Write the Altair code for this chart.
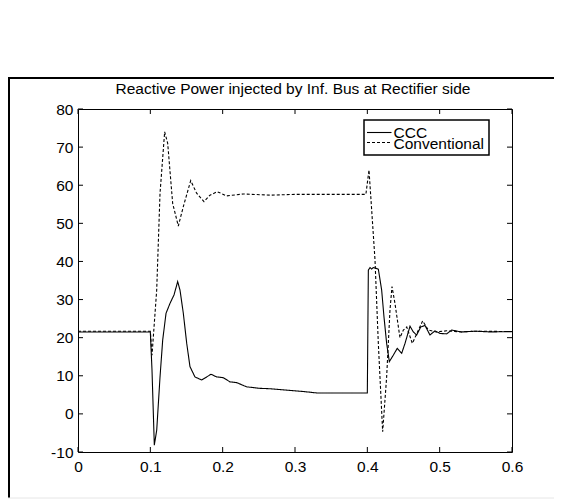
import altair as alt
import pandas as pd

# ---- data ----
ccc_t = [0, 0.1, 0.1023, 0.1055, 0.1088, 0.1134, 0.1171, 0.1217, 0.1272, 0.1327,
         0.1378, 0.141, 0.1456, 0.1503, 0.1548, 0.1617, 0.171, 0.1779, 0.1839, 0.1917,
         0.2009, 0.2101, 0.2194, 0.2332, 0.2516, 0.2654, 0.29, 0.31, 0.33, 0.36, 0.4,
         0.4014, 0.4037, 0.406, 0.4083, 0.4152, 0.4198, 0.423, 0.4267, 0.4304, 0.4359,
         0.4414, 0.4475, 0.4521, 0.459, 0.4636, 0.4682, 0.4738, 0.4797, 0.4866, 0.4935,
         0.5005, 0.5097, 0.5166, 0.53, 0.55, 0.57, 0.6]
ccc_v = [21.5, 21.5, 11.5, -8.2, -4.3, 9.7, 19.4, 26.4, 29.0, 31.2,
         34.7, 32.5, 26.4, 18.5, 12.4, 9.7, 8.9, 9.7, 10.4, 9.7,
         9.5, 8.4, 8.2, 7.1, 6.7, 6.6, 6.2, 5.9, 5.5, 5.5, 5.5,
         37.7, 38.4, 38.0, 38.4, 38.0, 32.5, 25.5, 18.5, 13.7, 15.4,
         17.2, 15.9, 18.5, 23.0, 21.5, 20.7, 22.8, 23.2, 20.7, 21.8,
         21.1, 21.0, 22.0, 21.5, 21.7, 21.5, 21.6]

conv_t = [0, 0.1, 0.1023, 0.1088, 0.1134, 0.1198, 0.124, 0.1309, 0.1387, 0.1456,
          0.1558, 0.164, 0.1742, 0.1825, 0.1926, 0.2055, 0.2286, 0.2654, 0.3, 0.35,
          0.398, 0.4023, 0.406, 0.4106, 0.4152, 0.4212, 0.4267, 0.4313, 0.4341, 0.4382,
          0.4451, 0.4498, 0.4545, 0.4622, 0.4765, 0.4843, 0.495, 0.51, 0.53, 0.55, 0.6]
conv_v = [21.7, 21.7, 15.4, 32.5, 57.9, 74.0, 71.0, 55.2, 49.3, 54.4,
          61.2, 57.9, 55.7, 57.4, 58.3, 57.2, 57.7, 57.4, 57.6, 57.6,
          57.6, 64.0, 53.5, 40.4, 18.5, -4.7, 9.7, 27.2, 33.4, 29.0,
          20.0, 22.0, 22.8, 18.5, 24.4, 22.0, 21.5, 21.8, 21.5, 21.7, 21.6]

series_names = ["CCC", "Conventional"]
x_ticks = [0, 0.1, 0.2, 0.3, 0.4, 0.5, 0.6]
y_ticks = [-10, 0, 10, 20, 30, 40, 50, 60, 70, 80]
title_text = "Reactive Power injected by Inf. Bus at Rectifier side"

# ---- layout ----
W, H = 434, 343
FONT = "Liberation Sans"
FS = 15.5

df = pd.concat([
    pd.DataFrame({"t": ccc_t, "q": ccc_v, "series": series_names[0]}),
    pd.DataFrame({"t": conv_t, "q": conv_v, "series": series_names[1]}),
], ignore_index=True)

xs = alt.Scale(domain=[x_ticks[0], x_ticks[-1]], nice=False, zero=False)
ys = alt.Scale(domain=[y_ticks[0], y_ticks[-1]], nice=False, zero=False)

x_axis = alt.Axis(values=x_ticks, labelExpr="'' + datum.value", grid=False,
                  domain=False, ticks=False, labelPadding=7, title=None,
                  labelFlush=False, labelOverlap=False,
                  labelFontSize=FS, labelFont=FONT, labelColor="black")
y_axis = alt.Axis(values=y_ticks, labelExpr="'' + datum.value", grid=False,
                  domain=False, ticks=False, labelPadding=5, title=None,
                  labelFlush=False, labelOverlap=False,
                  labelFontSize=FS, labelFont=FONT, labelColor="black")

lines = alt.Chart(df).mark_line(color="black", strokeWidth=1.1).encode(
    x=alt.X("t:Q", scale=xs, axis=x_axis),
    y=alt.Y("q:Q", scale=ys, axis=y_axis),
    strokeDash=alt.StrokeDash("series:N",
                              scale=alt.Scale(domain=series_names, range=[[1, 0], [3, 2]]),
                              legend=None),
)

xt = pd.DataFrame({"t": x_ticks})
yt = pd.DataFrame({"q": y_ticks})
tick_x_bottom = alt.Chart(xt).mark_rule(color="black").encode(
    x=alt.X("t:Q", scale=xs, axis=x_axis), y=alt.value(H), y2=alt.value(H - 5))
tick_x_top = alt.Chart(xt).mark_rule(color="black").encode(
    x=alt.X("t:Q", scale=xs, axis=x_axis), y=alt.value(0), y2=alt.value(5))
tick_y_left = alt.Chart(yt).mark_rule(color="black").encode(
    y=alt.Y("q:Q", scale=ys, axis=y_axis), x=alt.value(0), x2=alt.value(5))
tick_y_right = alt.Chart(yt).mark_rule(color="black").encode(
    y=alt.Y("q:Q", scale=ys, axis=y_axis), x=alt.value(W - 5), x2=alt.value(W))

one = pd.DataFrame({"a": [0]})
border_top = alt.Chart(one).mark_rule(color="black", strokeWidth=2).encode(
    x=alt.value(-70), x2=alt.value(480), y=alt.value(-31))
border_left = alt.Chart(one).mark_rule(color="black", strokeWidth=2).encode(
    x=alt.value(-69), y=alt.value(-31), y2=alt.value(389))
border_bottom = alt.Chart(one).mark_rule(color="#e6e6e6", strokeWidth=1).encode(
    x=alt.value(-70), x2=alt.value(480), y=alt.value(389))

title = alt.Chart(one).mark_text(text=title_text, align="center", baseline="alphabetic",
                                 font=FONT, fontSize=FS, color="black").encode(
    x=alt.value(215), y=alt.value(-15.5))

# legend (drawn by hand to reproduce the overlapping MATLAB entries)
leg_box = alt.Chart(one).mark_rect(fill="white", stroke="black", strokeWidth=1.5).encode(
    x=alt.value(286), x2=alt.value(411), y=alt.value(11), y2=alt.value(46))
leg_l1 = alt.Chart(one).mark_rule(color="black", strokeWidth=1.1).encode(
    x=alt.value(289), x2=alt.value(313.5), y=alt.value(23.5))
leg_l2 = alt.Chart(one).mark_rule(color="black", strokeWidth=1.1, strokeDash=[3, 2]).encode(
    x=alt.value(289), x2=alt.value(313.5), y=alt.value(33.5))
leg_t1 = alt.Chart(one).mark_text(text=series_names[0], align="left", baseline="alphabetic",
                                  font=FONT, fontSize=FS, color="black").encode(
    x=alt.value(315.5), y=alt.value(29.3))
leg_t2 = alt.Chart(one).mark_text(text=series_names[1], align="left", baseline="alphabetic",
                                  font=FONT, fontSize=FS, color="black").encode(
    x=alt.value(315.5), y=alt.value(40.3))

chart = alt.layer(
    border_top, border_left, border_bottom, title,
    lines, tick_x_bottom, tick_x_top, tick_y_left, tick_y_right,
    leg_box, leg_l1, leg_l2, leg_t1, leg_t2,
).properties(
    width=W, height=H,
    autosize=alt.AutoSizeParams(type="none"),
    padding={"left": 70, "top": 101, "right": 42, "bottom": 47},
).configure_view(stroke="black", strokeWidth=1)

chart.save("out.html", embed_options={"renderer": "svg", "actions": False})
